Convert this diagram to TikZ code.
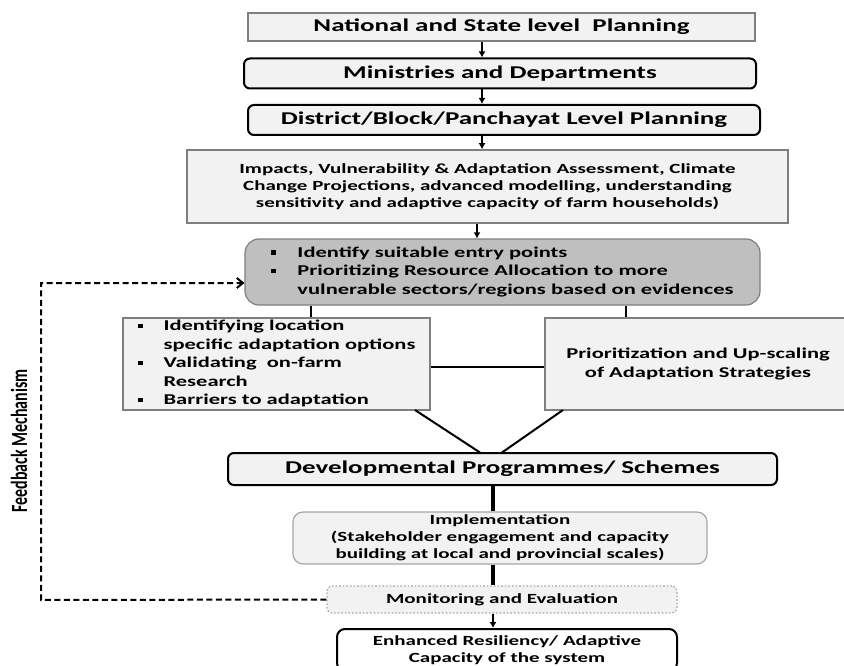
\documentclass[tikz,border=0pt]{standalone}
\usepackage{fontspec}
\setmainfont{Carlito}[FakeStretch=1.5]
\newfontfamily\plainfont{Carlito}
\usetikzlibrary{arrows.meta}
\definecolor{boxfill}{HTML}{F2F2F2}
\definecolor{darkfill}{HTML}{BFBFBF}
\definecolor{edgegray}{HTML}{7F7F7F}
\definecolor{lightedge}{HTML}{A6A6A6}
\newcommand{\sqb}{\rule[2.5pt]{5pt}{4.5pt}}
\tikzset{
  bx/.style={draw=edgegray, fill=boxfill, line width=1.6pt, inner sep=0pt, align=center},
  rbx/.style={draw=black, fill=boxfill, line width=2pt, rounded corners=6pt, inner sep=0pt, align=center},
  big/.style={font=\fontsize{18}{21}\selectfont\bfseries},
  mid/.style={font=\fontsize{15}{18.5}\selectfont\bfseries},
  sml/.style={font=\fontsize{14}{17}\selectfont\bfseries},
  arr/.style={line width=2.6pt, -{Latex[length=6pt,width=7pt]}},
  thk/.style={line width=3.5pt},
  ln/.style={line width=2pt},
}
\begin{document}
\begin{tikzpicture}[x=1pt,y=-1pt]
\useasboundingbox (0,0) rectangle (844,666);
\clip (0,0) rectangle (844,666);
% boxes
\node[bx, big, minimum width=507pt, minimum height=28pt] (b1) at (501.5,27) {National and State level\ \ Planning};
\node[rbx, big, minimum width=512pt, minimum height=30pt] (b2) at (500,73.5) {Ministries and Departments};
\node[rbx, big, minimum width=512pt, minimum height=30pt] (b3) at (504,120) {District/Block/Panchayat Level Planning};
\node[bx, sml, minimum width=601pt, minimum height=73pt] (b4) at (487.5,186.5) {Impacts, Vulnerability \& Adaptation Assessment, Climate\\Change Projections, advanced modelling, understanding\\sensitivity and adaptive capacity of farm households)};
\node[bx, mid, fill=darkfill, rounded corners=14pt, line width=1.2pt, minimum width=515pt, minimum height=66pt] (b5) at (502.5,272) {\begin{tabular}{@{}l@{\hspace{21pt}}l@{}}\sqb & Identify suitable entry points\\ \sqb & Prioritizing Resource Allocation to more\\ & vulnerable sectors/regions based on evidences\end{tabular}};
\node[bx, mid, minimum width=307pt, minimum height=92pt] (b6) at (276.5,364) {\begin{tabular}{@{}l@{\hspace{21pt}}l@{}}\sqb & Identifying location\\ & specific adaptation options\\ \sqb & Validating\ \ on-farm\\ & Research\\ \sqb & Barriers to adaptation\end{tabular}};
\node[bx, mid, minimum width=306pt, minimum height=92pt] (b7) at (698,364) {Prioritization and Up-scaling\\of Adaptation Strategies};
\node[rbx, big, minimum width=549pt, minimum height=32pt] (dev) at (502.5,469) {Developmental Programmes/ Schemes};
\node[bx, sml, draw=lightedge, line width=1.2pt, rounded corners=10pt, minimum width=414pt, minimum height=52pt] (impl) at (500,538) {Implementation\\(Stakeholder engagement and capacity\\building at local and provincial scales)};
\node[bx, sml, draw=lightedge, dotted, line width=1.2pt, rounded corners=5pt, minimum width=350pt, minimum height=27pt] (mon) at (502,599.5) {Monitoring and Evaluation};
\node[rbx, sml, fill=white, rounded corners=8pt, minimum width=340pt, minimum height=42pt] (enh) at (507,650) {Enhanced Resiliency/ Adaptive\\Capacity of the system};
\node[font=\plainfont\fontsize{16}{19}\selectfont\bfseries, rotate=90, inner sep=0pt] (fb) at (19,441) {\scalebox{1}[1.45]{Feedback Mechanism}};
% helper coordinates
\coordinate (xa) at (482,0);
\coordinate (xb) at (477,0);
\coordinate (xl) at (311,0);
\coordinate (xr) at (626,0);
\coordinate (xm) at (493,0);
\coordinate (yl) at (0,367);
\coordinate (fbtop) at (41,283);
\coordinate (fbbot) at (41,600);
\coordinate (d1s) at (415,410);
\coordinate (d1e) at (480,452.5);
\coordinate (d2s) at (563,410);
\coordinate (d2e) at (502,452.5);
% connectors
\draw[arr] (b1.south -| xa) -- (b2.north -| xa);
\draw[arr] (b2.south -| xa) -- (b3.north -| xa);
\draw[arr] (b3.south -| xa) -- (b4.north -| xa);
\draw[arr] (b4.south -| xb) -- (b5.north -| xb);
\draw[ln] (b5.south -| xl) -- (b6.north -| xl);
\draw[ln] (b5.south -| xr) -- (b7.north -| xr);
\draw[ln] (b6.east |- yl) -- (b7.west |- yl);
\draw[ln] (d1s) -- (d1e);
\draw[ln] (d2s) -- (d2e);
\draw[thk] (dev.south -| xm) -- (impl.north -| xm);
\draw[thk] (impl.south -| xm) -- (mon.north -| xm);
\draw[arr] (mon.south -| xm) -- (enh.north -| xm);
\draw[line width=2pt, dash pattern=on 6pt off 3.5pt, -{Straight Barb[length=6pt,width=10pt]}] (mon.west) -- (fbbot) -- (fbtop) -- (b5.west |- fbtop);
\end{tikzpicture}
\end{document}
